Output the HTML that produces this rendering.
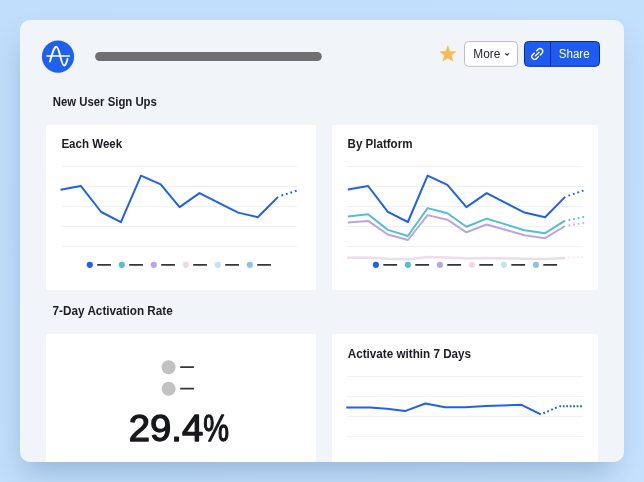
<!DOCTYPE html>
<html lang="en">
<head>
<meta charset="utf-8">
<title>Dashboard</title>
<style>
  html, body { margin: 0; padding: 0; }
  body {
    width: 644px; height: 482px; overflow: hidden; position: relative;
    background: linear-gradient(135deg, #c1defc 0%, #c2dffc 55%, #c5e1fd 100%);
    font-family: "Liberation Sans", sans-serif;
  }
  .panel {
    position: absolute; left: 20px; top: 20px; width: 604px; height: 441.5px;
    background: #f1f4f9; border-radius: 10px; overflow: hidden;
  }
  .shadow {
    position: absolute; left: 20px; top: 20px; width: 604px; height: 441.5px;
    border-radius: 10px;
    box-shadow: -3px 16px 30px -8px rgba(60, 95, 140, 0.36);
  }
  .card { position: absolute; background: #fff; border-radius: 2px; }
  svg { position: absolute; left: 0; top: 0; }
  text { font-family: "Liberation Sans", sans-serif; }
  .h { font-weight: bold; font-size: 12.1px; fill: #1b1d21; }
</style>
</head>
<body>
<div class="shadow"></div>
<div class="panel">
  <div class="card" style="left:26px; top:105px; width:270px; height:165px;"></div>
  <div class="card" style="left:312px; top:105px; width:266px; height:165px;"></div>
  <div class="card" style="left:26px; top:314px; width:270px; height:165px;"></div>
  <div class="card" style="left:312px; top:314px; width:266px; height:165px;"></div>

  <svg width="604" height="442" viewBox="20 20 604 442">
    <!-- logo -->
    <circle cx="58" cy="56.6" r="16.1" fill="#1e61f0"/>
    <g fill="none" stroke="#fff" stroke-width="1.7" stroke-linecap="round" stroke-linejoin="round">
      <path d="M47 56 H69.3" stroke-width="1.6"/>
      <path d="M49.9 61.6 C52 54 54 46.7 56.3 46.7 C59.7 46.7 60.8 65.5 64.2 65.5 C65.8 65.5 66.8 62 67.6 58.8" stroke-width="1.9"/>
    </g>
    <!-- title placeholder bar -->
    <rect x="95.1" y="52" width="226.7" height="9" rx="4.5" fill="#707070"/>

    <!-- star -->
    <path id="star" fill="#f6bb52" stroke="#f6bb52" stroke-width="0.5" stroke-linejoin="round" d="M447.9 45.8 L450.0 51.4 L455.9 51.7 L451.3 55.4 L452.9 61.1 L447.9 57.9 L442.9 61.1 L444.5 55.4 L439.9 51.7 L445.8 51.4 Z"/>

    <!-- More button -->
    <rect x="464.5" y="41.5" width="53" height="24.8" rx="4" fill="#fff" stroke="#bcbfc5" stroke-width="1"/>
    <text x="473.3" y="58.2" font-size="12.3" fill="#26282d" textLength="27" lengthAdjust="spacingAndGlyphs">More</text>
    <path d="M505.5 53.6 L507.1 55.1 L508.7 53.6" fill="none" stroke="#26282d" stroke-width="1.1" stroke-linecap="round" stroke-linejoin="round"/>

    <!-- Share button -->
    <rect x="524.5" y="41.5" width="75" height="24.8" rx="4" fill="#1e5bf0" stroke="#0b2aa0" stroke-width="1"/>
    <path d="M550.5 41.5 V66.3" stroke="#0b2aa0" stroke-width="1"/>
    <g fill="none" stroke="#fff" stroke-width="1.4" stroke-linejoin="round" transform="translate(537.3 54) rotate(-44)">
      <path d="M1.1 -2.7 H3.9 A2.7 2.7 0 0 1 3.9 2.7 H0.8"/>
      <path d="M-1.1 -2.7 H-3.9 A2.7 2.7 0 0 0 -3.9 2.7 H-0.6"/>
      <path d="M-2.6 0 H2.6" stroke-linecap="round" stroke-width="1.3"/>
    </g>
    <text x="558.8" y="58.2" font-size="12.3" fill="#fff" textLength="30.8" lengthAdjust="spacingAndGlyphs">Share</text>

    <!-- headings -->
    <text class="h" x="52.7" y="106.3" textLength="104.2" lengthAdjust="spacingAndGlyphs">New User Sign Ups</text>
    <text class="h" x="61.4" y="147.9" textLength="60.8" lengthAdjust="spacingAndGlyphs">Each Week</text>
    <text class="h" x="347.6" y="147.9" textLength="64.8" lengthAdjust="spacingAndGlyphs">By Platform</text>
    <text class="h" x="52.6" y="315.3" textLength="120.2" lengthAdjust="spacingAndGlyphs">7-Day Activation Rate</text>
    <text class="h" x="347.8" y="358.4" textLength="123.3" lengthAdjust="spacingAndGlyphs">Activate within 7 Days</text>

    <!-- grids -->
    <g stroke="#eff0f2" stroke-width="1" fill="none" transform="translate(0 0.4)">
      <path d="M61 166H297 M61 186H297 M61 206H297 M61 226H297 M61 246H297"/>
      <path d="M347 166H583 M347 186H583 M347 206H583 M347 226H583 M347 246H583"/>
      <path d="M347 376H583 M347 396H583 M347 416H583 M347 436H583"/>
    </g>

    <!-- chart 1 -->
    <g fill="none" stroke="#1e61f0" stroke-width="2" stroke-linejoin="round" transform="translate(0 0.4)">
      <path d="M60.5 189.3 L80.8 185.5 L101.2 211.6 L120.9 221.8 L141 175.3 L160.7 184 L179.6 206.7 L199.5 192.7 L238.1 212.2 L257.8 216.8 L278.1 196.5"/>
      <path d="M278.1 196.2 L297.2 190.2" stroke-dasharray="0 3.5 1.8 2.9 1.8 2.9 1.8 2.9 1.8 100"/>
    </g>

    <!-- chart 2 -->
    <g fill="none" stroke-width="2" stroke-linejoin="round" transform="translate(0 0.4)">
      <g stroke="#f5dbe4" stroke-width="1.7">
        <path d="M347 257.7 L368.1 257.5 L387.8 258.7 L407.9 259.2 L427.6 257.1 L447.4 257.5 L466.4 258.5 L486.7 257.9 L524.5 258.7 L545.1 259 L565.1 258" stroke="#d3e6fb"/>
        <path d="M347 256.9 L368.1 256.7 L387.8 257.9 L407.9 258.4 L427.6 256.3 L447.4 256.7 L466.4 257.7 L486.7 257.1 L524.5 257.9 L545.1 258.2 L565.1 257.2"/>
        <path d="M565.1 257.2 L584.3 256.9" stroke-dasharray="0 3.2 1.6 2.8 1.6 2.8 1.6 2.8 1.6 100" stroke-opacity="0.8"/>
      </g>
      <g stroke="#b9a5e4">
        <path d="M347.8 222.2 L368.1 220.5 L387.8 234.1 L407.9 239.6 L427.6 214.7 L447.4 219.3 L466.4 231.9 L486.7 224.1 L524.5 234.8 L545.1 237.8 L565.1 225.6"/>
        <path d="M565.1 225.8 L584.3 222.4" stroke-opacity="0.85" stroke-dasharray="0 3.5 1.8 2.9 1.8 2.9 1.8 2.9 1.8 100"/>
      </g>
      <g stroke="#52bfd6">
        <path d="M347.8 216.1 L368.1 213.8 L387.8 229.5 L407.9 235.6 L427.6 207.7 L447.4 212.9 L466.4 226.3 L486.7 218.2 L524.5 229.9 L545.1 232.8 L565.1 220.3"/>
        <path d="M565.1 220.4 L584.3 216.4" stroke-opacity="0.9" stroke-dasharray="0 3.5 1.8 2.9 1.8 2.9 1.8 2.9 1.8 100"/>
      </g>
      <g stroke="#1e61f0">
        <path d="M347.8 189.1 L368.1 185.6 L387.8 211.5 L407.9 221.6 L427.6 175.2 L447.4 184.5 L466.4 206.7 L486.7 192.7 L524.5 212.2 L545.1 216.8 L565.1 196.5"/>
        <path d="M565.1 196.4 L584.3 189.9" stroke-dasharray="0 3.5 1.8 2.9 1.8 2.9 1.8 2.9 1.8 100"/>
      </g>
    </g>

    <!-- legends -->
    <g id="lg1">
      <circle cx="89.8" cy="264.8" r="3.1" fill="#1e61f0"/>
      <circle cx="121.8" cy="264.8" r="3.1" fill="#52bfd6"/>
      <circle cx="153.8" cy="264.8" r="3.1" fill="#b9a5e4"/>
      <circle cx="185.8" cy="264.8" r="3.1" fill="#f5d7e2"/>
      <circle cx="217.8" cy="264.8" r="3.1" fill="#c5e0fb"/>
      <circle cx="249.8" cy="264.8" r="3.1" fill="#8cc1ee"/>
      <path d="M97.2 264.8h13.8 M129.2 264.8h13.8 M161.2 264.8h13.8 M193.2 264.8h13.8 M225.2 264.8h13.8 M257.2 264.8h13.8" stroke="#34363a" stroke-width="1.8" fill="none"/>
    </g>
    <use href="#lg1" x="286.1" y="0"/>

    <!-- big number card -->
    <circle cx="168.6" cy="367.2" r="7" fill="#c2c2c2"/>
    <circle cx="168.6" cy="388.7" r="7" fill="#c2c2c2"/>
    <path d="M180.2 367.2H194 M180.2 388.7H194" stroke="#34363a" stroke-width="1.8" fill="none"/>
    <text x="128.7" y="441" font-size="36.6" fill="#17181b" stroke="#17181b" stroke-width="1.3" stroke-linejoin="round"><tspan textLength="74.5" lengthAdjust="spacingAndGlyphs">29.4</tspan><tspan textLength="25.8" lengthAdjust="spacingAndGlyphs">%</tspan></text>

    <!-- chart 4 -->
    <g fill="none" stroke="#1e61f0" stroke-width="2" stroke-linejoin="round" transform="translate(0 0.4)">
      <path d="M346.3 407.2 L370 407.2 L387 408.3 L405 410.7 L425.3 403.1 L445 406.9 L465.4 406.9 L486 405.7 L521.5 404.4 L540.8 414"/>
      <path d="M540.7 414 L559 406.1" stroke-dasharray="0 2.9 1.8 2.45 1.8 2.45 1.8 2.45 1.8 100"/>
      <path d="M559.4 405.8 H582" stroke-dasharray="1.8 1.65"/>
    </g>
  </svg>
</div>
</body>
</html>
